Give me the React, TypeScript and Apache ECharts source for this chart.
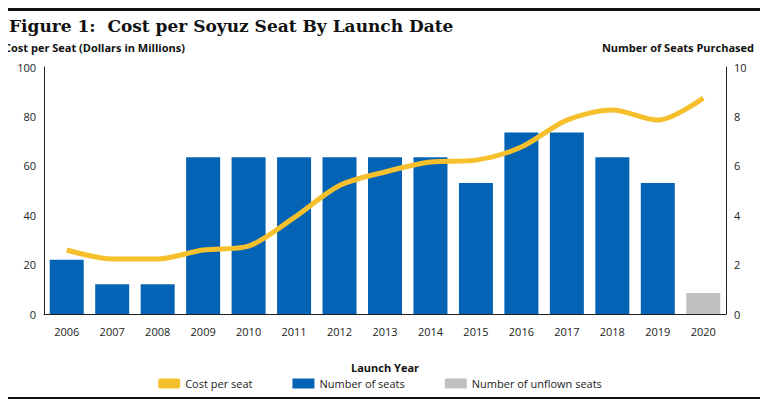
import { useEffect, useRef } from 'react'
import * as echarts from 'echarts'

const years = ['2006', '2007', '2008', '2009', '2010', '2011', '2012', '2013', '2014', '2015', '2016', '2017', '2018', '2019', '2020']
const seats = [2.2, 1.2, 1.2, 6.35, 6.35, 6.35, 6.35, 6.35, 6.35, 5.3, 7.35, 7.35, 6.35, 5.3, null]
const unflownSeats = [null, null, null, null, null, null, null, null, null, null, null, null, null, null, 0.85]
const costPerSeat = [25.9, 22.3, 22.3, 25.9, 27.5, 39, 52, 57.5, 61.5, 62.3, 67.6, 78.5, 82.6, 78.5, 87.4]

const font = "'Open Sans', 'DejaVu Sans', sans-serif"

export default function App() {
  const chartRef = useRef<HTMLDivElement>(null)

  useEffect(() => {
    if (!chartRef.current) return
    const chart = echarts.init(chartRef.current, null, { renderer: 'svg' })

    chart.setOption({
      animation: false,
      textStyle: { fontFamily: font },
      title: {
        text: 'Figure 1:  Cost per Soyuz Seat By Launch Date',
        left: 4,
        top: 12,
        textStyle: { fontFamily: "'DejaVu Serif', serif", fontSize: 17, fontWeight: 'bold', color: '#111' },
      },
      graphic: [
        { type: 'rect', shape: { x: 4, y: 8, width: 764, height: 3 }, style: { fill: '#111' } },
        { type: 'rect', shape: { x: 4, y: 397, width: 764, height: 2 }, style: { fill: '#111' } },
      ],
      legend: {
        bottom: 10,
        left: 'center',
        itemGap: 40,
        itemWidth: 22,
        itemHeight: 10,
        textStyle: { fontSize: 11, color: '#222', fontFamily: font },
        data: [
          { name: 'Cost per seat', icon: 'roundRect', itemStyle: { color: '#f5c02c' } },
          { name: 'Number of seats', icon: 'rect' },
          { name: 'Number of unflown seats', icon: 'rect' },
        ],
      },
      grid: { left: 44, right: 34, top: 67, bottom: 90 },
      xAxis: {
        type: 'category',
        data: years,
        name: 'Launch Year',
        nameLocation: 'middle',
        nameGap: 48,
        nameTextStyle: { fontSize: 11, fontWeight: 'bold', color: '#111' },
        axisLine: { lineStyle: { color: '#222' } },
        axisTick: { show: false },
        axisLabel: { fontSize: 11, color: '#222', margin: 12 },
      },
      yAxis: [
        {
          type: 'value',
          min: 0,
          max: 100,
          interval: 20,
          name: 'Cost per Seat (Dollars in Millions)',
          nameLocation: 'end',
          nameGap: 14,
          nameTextStyle: { align: 'left', padding: [0, 0, 0, -40], fontSize: 11, fontWeight: 'bold', color: '#111' },
          axisLine: { show: true, lineStyle: { color: '#222' } },
          axisTick: { show: false },
          splitLine: { show: false },
          axisLabel: { fontSize: 11, color: '#222' },
        },
        {
          type: 'value',
          min: 0,
          max: 10,
          interval: 2,
          name: 'Number of Seats Purchased',
          nameLocation: 'end',
          nameGap: 14,
          nameTextStyle: { align: 'right', padding: [0, -28, 0, 0], fontSize: 11, fontWeight: 'bold', color: '#111' },
          axisLine: { show: true, lineStyle: { color: '#222' } },
          axisTick: { show: false },
          splitLine: { show: false },
          axisLabel: { fontSize: 11, color: '#222' },
        },
      ],
      series: [
        {
          name: 'Number of seats',
          type: 'bar',
          yAxisIndex: 1,
          stack: 's',
          barWidth: 34,
          itemStyle: { color: '#0563b5' },
          data: seats,
        },
        {
          name: 'Number of unflown seats',
          type: 'bar',
          yAxisIndex: 1,
          stack: 's',
          barWidth: 34,
          itemStyle: { color: '#bfc0c2' },
          data: unflownSeats,
        },
        {
          name: 'Cost per seat',
          type: 'line',
          yAxisIndex: 0,
          smooth: 0.3,
          showSymbol: false,
          lineStyle: { color: '#f5c02c', width: 5 },
          itemStyle: { color: '#f5c02c' },
          data: costPerSeat,
          z: 5,
        },
      ],
    })

    return () => chart.dispose()
  }, [])

  return <div ref={chartRef} style={{ width: 760, height: 404, margin: '-8px 0 0 -8px' }} />
}
